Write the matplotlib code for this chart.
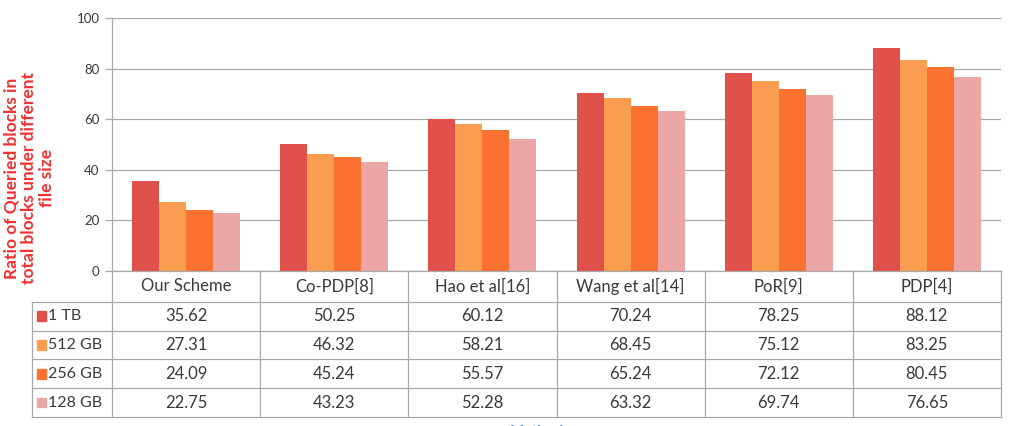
import matplotlib.pyplot as plt
from matplotlib.patches import Rectangle

# data
methods = ['Our Scheme', 'Co-PDP[8]', 'Hao et al[16]', 'Wang et al[14]', 'PoR[9]', 'PDP[4]']
sizes = ['1 TB', '512 GB', '256 GB', '128 GB']
tb1 = [35.62, 50.25, 60.12, 70.24, 78.25, 88.12]
gb512 = [27.31, 46.32, 58.21, 68.45, 75.12, 83.25]
gb256 = [24.09, 45.24, 55.57, 65.24, 72.12, 80.45]
gb128 = [22.75, 43.23, 52.28, 63.32, 69.74, 76.65]
yticks = [0, 20, 40, 60, 80, 100]

series = [tb1, gb512, gb256, gb128]
colors = ['#E0514B', '#FA9D50', '#FA7130', '#EBA7A5']
grid_c = '#A8A8A8'
text_c = '#3A3A3A'
font = 'Lato'

fig = plt.figure(figsize=(10.09, 4.26), dpi=100)
W, H = 1009, 426
x0, x1 = 112, 1001
ytop, ybot = 18, 271
tab_left, tab_bot = 32, 417

ax = fig.add_axes([x0 / W, 1 - ybot / H, (x1 - x0) / W, (ybot - ytop) / H])
n = len(methods)
bw = 0.182
for k, vals in enumerate(series):
    xs = [i + (k - 1.5) * bw for i in range(n)]
    ax.bar(xs, vals, width=bw, color=colors[k], zorder=3, label=sizes[k])
ax.set_xlim(-0.5, n - 0.5)
ax.set_ylim(0, 100)
ax.set_yticks(yticks)
ax.set_yticklabels([str(t) for t in yticks], fontsize=9.5, color=text_c, family=font)
ax.set_xticks([])
ax.grid(axis='y', color=grid_c, linewidth=0.9, zorder=0)
ax.tick_params(axis='y', length=5, color=grid_c, width=0.9, pad=4)
for s in ['top', 'right', 'bottom']:
    ax.spines[s].set_visible(False)
ax.spines['left'].set_color(grid_c)
ax.spines['left'].set_linewidth(0.9)

# data table underneath
lab_w = (x0 - tab_left) / ((x1 - x0) / n)
axt = fig.add_axes([tab_left / W, 1 - tab_bot / H, (x1 - tab_left) / W, (tab_bot - ybot) / H])
axt.set_xlim(-0.5 - lab_w, n - 0.5)
hdr = 1.07
nrows = len(sizes)
axt.set_ylim(0, nrows + hdr)
axt.axis('off')
lw = 0.9
# horizontal lines
axt.plot([-0.5, n - 0.5], [nrows + hdr] * 2, color=grid_c, lw=lw, clip_on=False)
for r in range(nrows + 1):
    axt.plot([-0.5 - lab_w, n - 0.5], [r, r], color=grid_c, lw=lw, clip_on=False)
# vertical lines
axt.plot([-0.5 - lab_w] * 2, [0, nrows], color=grid_c, lw=lw, clip_on=False)
for c in range(n + 1):
    axt.plot([c - 0.5] * 2, [0, nrows + hdr], color=grid_c, lw=lw, clip_on=False)

fs = 12
for i, m in enumerate(methods):
    axt.text(i, nrows + hdr / 2, m, ha='center', va='center', fontsize=fs,
             color=text_c, family=font)
for r, (lab, vals) in enumerate(zip(sizes, series)):
    yc = nrows - r - 0.5
    axt.add_patch(Rectangle((-0.5 - lab_w + 0.035, yc - 0.17), 0.058, 0.34,
                            color=colors[r], clip_on=False))
    axt.text(-0.5 - lab_w + 0.105, yc, lab, ha='left', va='center', fontsize=11.5,
             color=text_c, family=font)
    for i, v in enumerate(vals):
        axt.text(i, yc, f'{v:.2f}', ha='center', va='center', fontsize=fs,
                 color=text_c, family=font)

fig.text(29 / W, 1 - 178 / H, 'Ratio of Queried blocks in\ntotal blocks under different\nfile size',
         rotation=90, ha='center', va='center', multialignment='center', fontsize=12.5,
         fontweight='bold', color='#F03030', family=font, linespacing=1.15)
fig.text(540 / W, 1 - 432 / H, 'Methods', ha='center', va='center', fontsize=11,
         fontweight='bold', color='#4A7EBB', family=font)

fig.savefig('out.png', dpi=100)
